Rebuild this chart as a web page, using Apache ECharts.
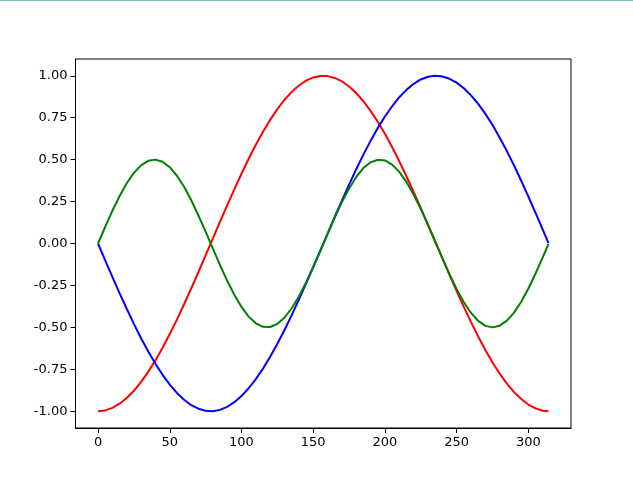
<!DOCTYPE html>
<html><head><meta charset="utf-8">
<script src="https://cdn.jsdelivr.net/npm/echarts@6/dist/echarts.min.js"></script>
<style>html,body{margin:0;padding:0;background:#fff}#c{width:633px;height:477px}</style>
</head><body><div id="c"></div>
<script>
const xs = [0,5,10,15,20,25,30,35,40,45,50,55,60,65,70,75,80,85,90,95,100,105,110,115,120,125,130,135,140,145,150,155,160,165,170,175,180,185,190,195,200,205,210,215,220,225,230,235,240,245,250,255,260,265,270,275,280,285,290,295,300,305,310,314];
const redVals = [-1.000,-0.995,-0.980,-0.955,-0.921,-0.878,-0.825,-0.765,-0.697,-0.622,-0.540,-0.454,-0.362,-0.267,-0.170,-0.071,0.029,0.129,0.227,0.323,0.416,0.505,0.589,0.666,0.737,0.801,0.857,0.904,0.942,0.971,0.990,0.999,0.998,0.987,0.967,0.936,0.897,0.848,0.791,0.726,0.654,0.575,0.490,0.401,0.307,0.211,0.112,0.012,-0.087,-0.187,-0.284,-0.378,-0.469,-0.554,-0.635,-0.709,-0.776,-0.835,-0.886,-0.927,-0.960,-0.983,-0.997,-1.000];
const blueVals = [0.000,-0.100,-0.199,-0.296,-0.389,-0.479,-0.565,-0.644,-0.717,-0.783,-0.841,-0.891,-0.932,-0.964,-0.985,-0.997,-1.000,-0.992,-0.974,-0.946,-0.909,-0.863,-0.808,-0.746,-0.675,-0.598,-0.516,-0.427,-0.335,-0.239,-0.141,-0.042,0.058,0.158,0.256,0.351,0.443,0.530,0.612,0.688,0.757,0.818,0.872,0.916,0.952,0.978,0.994,1.000,0.996,0.982,0.959,0.926,0.883,0.832,0.773,0.706,0.631,0.551,0.465,0.374,0.279,0.182,0.083,0.003];
const greenVals = [0.000,0.099,0.195,0.282,0.359,0.421,0.466,0.493,0.500,0.487,0.455,0.404,0.338,0.258,0.167,0.071,-0.029,-0.128,-0.221,-0.306,-0.378,-0.436,-0.476,-0.497,-0.498,-0.479,-0.442,-0.386,-0.316,-0.233,-0.140,-0.042,0.058,0.156,0.247,0.328,0.397,0.450,0.484,0.499,0.495,0.470,0.427,0.367,0.292,0.206,0.111,0.012,-0.087,-0.183,-0.272,-0.350,-0.414,-0.461,-0.491,-0.500,-0.490,-0.460,-0.412,-0.347,-0.268,-0.179,-0.083,-0.003];
const xTicks = [0,50,100,150,200,250,300];
const yTicks = [-1,-0.75,-0.5,-0.25,0,0.25,0.5,0.75,1];

const zip = (a,b)=>a.map((v,i)=>[v,b[i]]);
const font = {fontFamily:'DejaVu Sans', fontSize:13, color:'#000'};
const chart = echarts.init(document.getElementById('c'), null, {renderer:'canvas'});
const mk = (name, vals, color)=>({name, type:'line', data: zip(xs, vals), smooth:false, showSymbol:false, symbol:'none',
  lineStyle:{color, width:2}, itemStyle:{color}, animation:false, z:3});
chart.setOption({
  animation:false,
  backgroundColor:'#fff',
  grid:{left:75.5, right:62, top:59, bottom:49, show:true, borderColor:'#000', borderWidth:1, backgroundColor:'transparent'},
  xAxis:{type:'value', min:-15.7, max:329.7, splitLine:{show:false},
    axisLine:{show:true, onZero:false, lineStyle:{color:'#000', width:1}},
    axisTick:{show:true, length:5, inside:false, lineStyle:{color:'#000', width:1}, customValues:xTicks},
    axisLabel:{...font, margin:8, customValues:xTicks, formatter:v=>String(v)}},
  yAxis:{type:'value', min:-1.1, max:1.1, splitLine:{show:false},
    axisLine:{show:true, onZero:false, lineStyle:{color:'#000', width:1}},
    axisTick:{show:true, length:5, inside:false, lineStyle:{color:'#000', width:1}, customValues:yTicks},
    axisLabel:{...font, margin:8, customValues:yTicks, formatter:v=>v.toFixed(2)}},
  graphic:[{type:'rect', shape:{x:0,y:0,width:633,height:1}, style:{fill:'#7ec0c8'}}],
  series:[mk('red', redVals, '#ff0000'), mk('blue', blueVals, '#0000ff'), mk('green', greenVals, '#008000')]
});
</script></body></html>
